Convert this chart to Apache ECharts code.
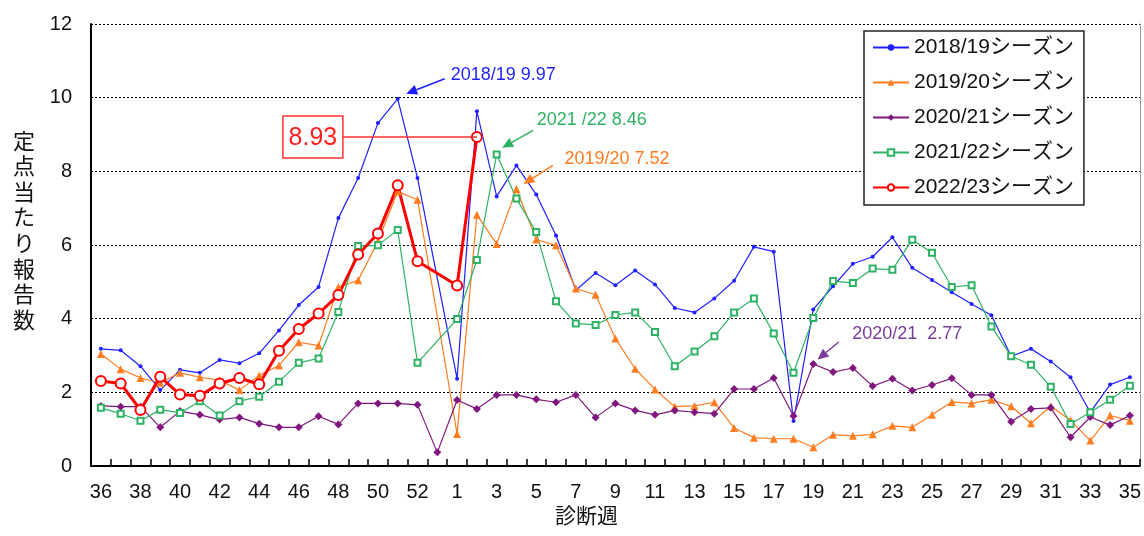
<!DOCTYPE html>
<html>
<head>
<meta charset="utf-8">
<script src="https://cdn.jsdelivr.net/npm/echarts/dist/echarts.min.js"></script>
<style>
  html, body { margin: 0; padding: 0; background: #fff; }
  #chart { width: 1144px; height: 536px; }
</style>
</head>
<body>
<div id="chart"></div>
<script>
// 診断週 (2020/21 has a week 53)
var weeks = ['36','37','38','39','40','41','42','43','44','45','46','47','48','49','50','51','52','53',
  '1','2','3','4','5','6','7','8','9','10','11','12','13','14','15','16','17','18','19','20',
  '21','22','23','24','25','26','27','28','29','30','31','32','33','34','35'];

var s2018 = [3.18,3.14,2.71,2.06,2.61,2.53,2.88,2.79,3.06,3.68,4.37,4.86,6.73,7.82,9.31,9.97,7.82,null,
  2.37,9.63,7.32,8.16,7.37,6.26,4.77,5.24,4.91,5.31,4.93,4.29,4.17,4.55,5.03,5.95,5.82,1.22,4.25,4.88,
  5.49,5.68,6.21,5.38,5.05,4.72,4.40,4.09,2.98,3.18,2.84,2.41,1.46,2.21,2.41];
var s2019 = [3.04,2.63,2.39,2.26,2.53,2.41,2.33,2.06,2.46,2.73,3.36,3.27,4.86,5.04,6.10,7.45,7.23,null,
  0.87,6.82,6.03,7.52,6.15,5.99,4.82,4.65,3.46,2.64,2.08,1.61,1.63,1.73,1.03,0.77,0.74,0.74,0.51,0.85,
  0.82,0.86,1.09,1.05,1.39,1.74,1.70,1.80,1.62,1.16,1.62,1.24,0.69,1.37,1.23];
var s2020 = [1.63,1.61,1.61,1.05,1.49,1.39,1.26,1.32,1.15,1.05,1.05,1.35,1.13,1.70,1.70,1.70,1.66,0.37,
  1.79,1.55,1.93,1.93,1.81,1.73,1.93,1.32,1.70,1.51,1.39,1.51,1.46,1.42,2.09,2.09,2.39,1.36,2.77,2.55,
  2.66,2.17,2.37,2.05,2.20,2.38,1.93,1.93,1.20,1.55,1.58,0.78,1.33,1.11,1.37];
var s2021 = [1.58,1.42,1.23,1.53,1.44,1.76,1.37,1.76,1.88,2.29,2.80,2.92,4.18,5.97,5.99,6.41,2.80,null,
  3.99,5.59,8.46,7.26,6.35,4.47,3.87,3.83,4.10,4.17,3.64,2.71,3.11,3.52,4.17,4.55,3.60,2.53,4.02,5.02,
  4.97,5.36,5.33,6.14,5.79,4.86,4.91,3.79,2.98,2.75,2.15,1.14,1.46,1.80,2.18];
var s2022 = [2.31,2.24,1.52,2.42,1.94,1.91,2.24,2.39,2.22,3.13,3.72,4.14,4.64,5.74,6.31,7.62,5.56,null,
  4.90,8.93];

var seasonNames = ['2018/19シーズン','2019/20シーズン','2020/21シーズン','2021/22シーズン','2022/23シーズン'];
var yTicks = [0, 12, 2];  // min, max, interval

var FONT = '"Liberation Sans", "Noto Sans CJK JP", sans-serif';
var C_BLUE = '#1f1fff', C_ORANGE = '#ff7c1f', C_PURPLE = '#7f177f', C_GREEN = '#2eb264', C_RED = '#ff0000';

var chart = echarts.init(document.getElementById('chart'));

var option = {
  animation: false,
  backgroundColor: '#fff',
  grid: {
    left: 91, right: 2, top: 24, bottom: 70,
    show: false
  },
  legend: {
    orient: 'vertical',
    left: 864, top: 31,
    data: seasonNames,
    itemWidth: 36, itemHeight: 8, itemGap: 14,
    padding: [6, 10, 7, 8],
    borderColor: '#222', borderWidth: 1.5,
    backgroundColor: '#fff',
    textStyle: { fontSize: 21, lineHeight: 20, color: '#111', fontFamily: FONT }
  },
  xAxis: [
    {
      type: 'category',
      data: weeks,
      boundaryGap: true,
      name: '診断週',
      nameLocation: 'middle',
      nameGap: 41,
      nameTextStyle: { fontSize: 21, color: '#111', fontFamily: FONT, padding: [0, 58, 0, 0] },
      axisLine: { show: true, lineStyle: { color: '#000', width: 2 } },
      axisTick: { show: true, inside: true, length: 7, interval: 0, alignWithLabel: false,
        lineStyle: { color: '#000', width: 1.5 } },
      axisLabel: { interval: 1, fontSize: 20, color: '#111', margin: 16, fontFamily: FONT },
      splitLine: { show: false },
      z: 5
    },
    {
      // top border of the plot area
      type: 'category',
      data: weeks,
      position: 'top',
      axisLine: { show: true, lineStyle: { color: '#999', width: 1 } },
      axisTick: { show: false },
      axisLabel: { show: false },
      splitLine: { show: false }
    }
  ],
  yAxis: [
    {
      type: 'value',
      min: yTicks[0], max: yTicks[1], interval: yTicks[2],
      name: '定\n点\n当\nた\nり\n報\n告\n数\n ',
      nameLocation: 'middle',
      nameRotate: 0,
      nameGap: 56,
      nameTextStyle: { fontSize: 22, lineHeight: 25.6, color: '#111', fontFamily: FONT },
      axisLine: { show: true, lineStyle: { color: '#000', width: 2 } },
      axisTick: { show: false },
      axisLabel: { fontSize: 20, color: '#111', margin: 19, fontFamily: FONT },
      splitLine: { show: true, lineStyle: { color: '#000', width: 1, type: [2, 2] } }
    },
    {
      // right border of the plot area
      type: 'value',
      position: 'right',
      min: yTicks[0], max: yTicks[1], interval: yTicks[2],
      axisLine: { show: true, lineStyle: { color: '#999', width: 1 } },
      axisTick: { show: false },
      axisLabel: { show: false },
      splitLine: { show: false }
    }
  ],
  series: [
    {
      name: seasonNames[0], type: 'line', data: s2018, connectNulls: true,
      symbol: 'circle', symbolSize: 4,
      lineStyle: { color: C_BLUE, width: 1.2 }, itemStyle: { color: C_BLUE }
    },
    {
      name: seasonNames[1], type: 'line', data: s2019, connectNulls: true,
      symbol: 'triangle', symbolSize: 8,
      lineStyle: { color: C_ORANGE, width: 1.2 }, itemStyle: { color: C_ORANGE }
    },
    {
      name: seasonNames[2], type: 'line', data: s2020, connectNulls: true,
      symbol: 'diamond', symbolSize: 8,
      lineStyle: { color: C_PURPLE, width: 1.2 }, itemStyle: { color: C_PURPLE }
    },
    {
      name: seasonNames[3], type: 'line', data: s2021, connectNulls: true,
      symbol: 'emptyRect', symbolSize: 6,
      lineStyle: { color: C_GREEN, width: 1.2 }, itemStyle: { color: C_GREEN, borderWidth: 1.2 }
    },
    {
      name: seasonNames[4], type: 'line', data: s2022, connectNulls: true,
      symbol: 'emptyCircle', symbolSize: 10,
      lineStyle: { color: C_RED, width: 3 }, itemStyle: { color: C_RED, borderWidth: 1.5 }
    }
  ]
};

chart.setOption(option);

// annotations placed relative to the data points
function px(idx, val) {
  return chart.convertToPixel({ seriesIndex: 0 }, [idx, val]);
}

function arrow(p, tip, tail, color) {
  var x1 = p[0] + tail[0], y1 = p[1] + tail[1];
  var x2 = p[0] + tip[0], y2 = p[1] + tip[1];
  var dx = x2 - x1, dy = y2 - y1, len = Math.sqrt(dx * dx + dy * dy);
  var ux = dx / len, uy = dy / len;
  var hl = 11, hw = 5;
  var bx = x2 - ux * hl, by = y2 - uy * hl;
  return [
    { type: 'line', z: 100, shape: { x1: x1, y1: y1, x2: bx, y2: by }, style: { stroke: color, lineWidth: 1.5 } },
    { type: 'polygon', z: 100, shape: { points: [[x2, y2], [bx - uy * hw, by + ux * hw], [bx + uy * hw, by - ux * hw]] },
      style: { fill: color } }
  ];
}

function label(p, dx, dy, text, color) {
  return { type: 'text', z: 100, style: {
    text: text, x: p[0] + dx, y: p[1] + dy, fill: color,
    fontSize: 18, fontFamily: FONT, align: 'left', verticalAlign: 'middle'
  } };
}

var pBlue = px(15, s2018[15]);
var pGreen = px(20, s2021[20]);
var pOrange = px(21, s2019[21]);
var pPurple = px(36, s2020[36]);
var pRed = px(19, s2022[19]);

var g = [];
g = g.concat(arrow(pBlue, [8.5, -5], [47, -20], C_BLUE));
g.push(label(pBlue, 53, -24, '2018/19 9.97', C_BLUE));
g = g.concat(arrow(pGreen, [5.5, -6.7], [36.5, -24], C_GREEN));
g.push(label(pGreen, 40, -34, '2021 /22 8.46', C_GREEN));
g = g.concat(arrow(pOrange, [7, -5], [36.5, -23.7], C_ORANGE));
g.push(label(pOrange, 48, -30.4, '2019/20 7.52', C_ORANGE));
g = g.concat(arrow(pPurple, [4.3, -4.4], [25.5, -22], '#7a3a9a'));
g.push(label(pPurple, 39, -30.4, '2020/21  2.77', '#7a3a9a'));

// 8.93 box with leader line
var boxR = pRed[0] - 134;
g.push({ type: 'line', z: 90, shape: { x1: boxR, y1: pRed[1], x2: pRed[0], y2: pRed[1] },
  style: { stroke: '#ff3030', lineWidth: 1.5 } });
g.push({ type: 'rect', z: 100, shape: { x: boxR - 60, y: pRed[1] - 21, width: 60, height: 42 },
  style: { fill: '#fff', stroke: '#ff3030', lineWidth: 1.5 } });
g.push({ type: 'text', z: 101, style: {
  text: '8.93', x: boxR - 30, y: pRed[1] + 1, fill: '#ff2020',
  fontSize: 25, fontFamily: FONT, align: 'center', verticalAlign: 'middle'
} });

chart.setOption({ graphic: g });
</script>
</body>
</html>
